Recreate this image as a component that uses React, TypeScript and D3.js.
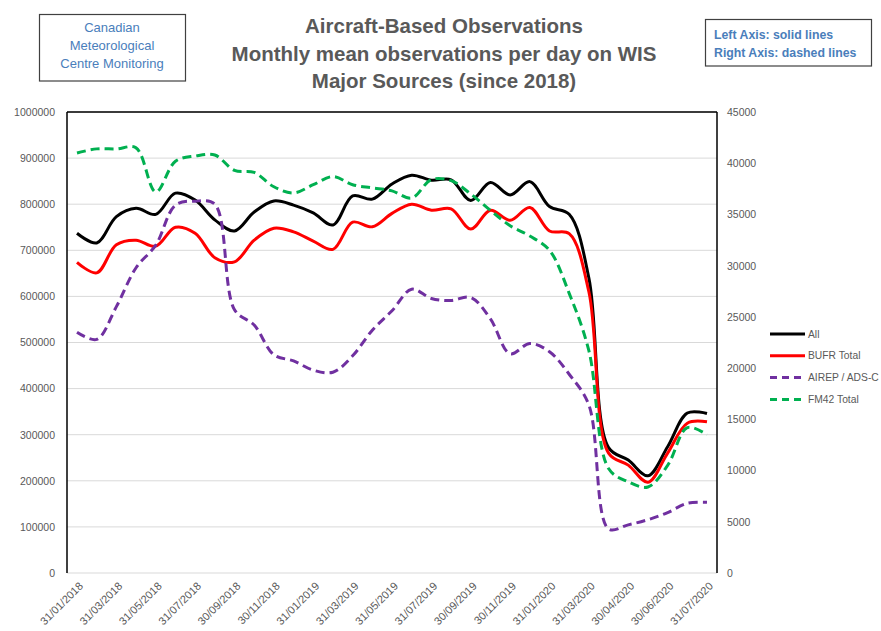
import React, { useEffect, useRef } from 'react';
import * as d3 from 'd3';

// month-end dates (the 2020 section has a couple of extra mid-month points)
const dates = [
  '31/01/2018', '28/02/2018', '31/03/2018', '30/04/2018', '31/05/2018', '30/06/2018',
  '31/07/2018', '31/08/2018', '30/09/2018', '31/10/2018', '30/11/2018', '31/12/2018',
  '31/01/2019', '28/02/2019', '31/03/2019', '30/04/2019', '31/05/2019', '30/06/2019',
  '31/07/2019', '31/08/2019', '30/09/2019', '31/10/2019', '30/11/2019', '31/12/2019',
  '31/01/2020', '29/02/2020', '31/03/2020', '15/04/2020', '30/04/2020', '31/05/2020',
  '30/06/2020', '15/07/2020', '31/07/2020',
];

// left axis (solid)
const allObs = [
  737000, 716000, 773000, 791000, 778000, 824000, 809000, 766000, 742000, 783000, 807000,
  798000, 781000, 755000, 818000, 811000, 844000, 863000, 852000, 853000, 808000, 847000,
  820000, 849000, 795000, 778000, 640000, 272000, 245000, 211000, 274000, 347000, 346000,
];
const bufrTotal = [
  674000, 651000, 712000, 722000, 709000, 750000, 737000, 684000, 675000, 722000, 748000,
  740000, 720000, 702000, 761000, 751000, 780000, 800000, 787000, 790000, 746000, 787000,
  765000, 793000, 742000, 736000, 610000, 260000, 234000, 197000, 260000, 325000, 328000,
];

// right axis (dashed)
const airep = [
  23500, 22800, 26000, 29800, 32000, 35900, 36300, 36000, 25700, 24200, 21300,
  20700, 19800, 19600, 21200, 23700, 25600, 27700, 26800, 26600, 26900, 24800,
  21400, 22400, 21600, 19400, 16400, 4300, 4700, 5200, 5900, 6800, 6900,
];
const fm42 = [
  41000, 41400, 41400, 41500, 37200, 40200, 40700, 40800, 39300, 39100, 37700,
  37100, 37900, 38700, 37900, 37600, 37300, 36600, 38400, 38300, 37000, 35400,
  33900, 32900, 31500, 27300, 21700, 10200, 8900, 8400, 10500, 14200, 13500,
];

const leftTicks = [0, 100000, 200000, 300000, 400000, 500000, 600000, 700000, 800000, 900000, 1000000];
const rightTicks = [0, 5000, 10000, 15000, 20000, 25000, 30000, 35000, 40000, 45000];
const tickDates = dates.filter((d, i) => i % 2 === 0);

const titleLines = [
  'Aircraft-Based Observations',
  'Monthly mean observations per day on WIS',
  'Major Sources (since 2018)',
];

const series = [
  { name: 'All', values: allObs, axis: 'left', color: '#000000', dash: null },
  { name: 'BUFR Total', values: bufrTotal, axis: 'left', color: '#ff0000', dash: null },
  { name: 'AIREP / ADS-C', values: airep, axis: 'right', color: '#7030a0', dash: '9 5' },
  { name: 'FM42 Total', values: fm42, axis: 'right', color: '#00b050', dash: '9 5' },
];

const FONT = '"Liberation Sans", Arial, sans-serif';

const App = () => {
  const svgRef = useRef<SVGSVGElement>(null);

  useEffect(() => {
    const width = 881;
    const height = 631;
    const plot = { left: 67, right: 717, top: 112, bottom: 573 };

    d3.select(svgRef.current).selectAll('*').remove();
    const svg = d3.select(svgRef.current).attr('width', width).attr('height', height);

    svg.append('rect').attr('width', width).attr('height', height).attr('fill', '#fff');

    // scales
    const x = d3.scalePoint<string>().domain(dates).range([77, 707]);
    const yLeft = d3.scaleLinear().domain([0, 1000000]).range([plot.bottom, plot.top]);
    const yRight = d3.scaleLinear().domain([0, 45000]).range([plot.bottom, plot.top]);

    // gridlines
    svg.append('g')
      .selectAll('line')
      .data(leftTicks)
      .join('line')
      .attr('x1', plot.left)
      .attr('x2', plot.right)
      .attr('y1', d => yLeft(d))
      .attr('y2', d => yLeft(d))
      .attr('stroke', '#d9d9d9')
      .attr('stroke-width', 1);

    // axes
    const leftAxis = svg.append('g')
      .attr('transform', `translate(${plot.left},0)`)
      .call(d3.axisLeft(yLeft).tickValues(leftTicks).tickSize(0).tickPadding(12).tickFormat(d3.format('d')));
    const rightAxis = svg.append('g')
      .attr('transform', `translate(${plot.right},0)`)
      .call(d3.axisRight(yRight).tickValues(rightTicks).tickSize(0).tickPadding(10).tickFormat(d3.format('d')));
    [leftAxis, rightAxis].forEach(g => {
      g.select('.domain').remove();
      g.attr('color', '#595959').attr('font-family', FONT).attr('font-size', 10.5);
    });

    // x labels, rotated
    svg.append('g')
      .selectAll('text')
      .data(tickDates)
      .join('text')
      .attr('transform', d => `translate(${(x(d) as number) + 4},${plot.bottom + 11}) rotate(-45)`)
      .attr('text-anchor', 'end')
      .attr('dy', '0.35em')
      .attr('fill', '#595959')
      .attr('font-family', FONT)
      .attr('font-size', 11)
      .text(d => d);

    // plot borders
    const border = svg.append('g').attr('stroke', '#000').attr('stroke-width', 1.5);
    border.append('line').attr('x1', plot.left).attr('x2', plot.left).attr('y1', plot.top).attr('y2', plot.bottom);
    border.append('line').attr('x1', plot.right).attr('x2', plot.right).attr('y1', plot.top).attr('y2', plot.bottom);
    border.append('line').attr('x1', plot.left).attr('x2', plot.right).attr('y1', plot.top).attr('y2', plot.top);

    // series
    series.forEach(s => {
      const y = s.axis === 'left' ? yLeft : yRight;
      const line = d3.line<number>()
        .x((d, i) => x(dates[i]) as number)
        .y(d => y(d))
        .curve(d3.curveCatmullRom.alpha(0.5));
      svg.append('path')
        .datum(s.values)
        .attr('d', line)
        .attr('fill', 'none')
        .attr('stroke', s.color)
        .attr('stroke-width', 3)
        .attr('stroke-linejoin', 'round')
        .attr('stroke-dasharray', s.dash);
    });

    // legend
    const legend = svg.append('g').attr('transform', 'translate(770,334)');
    series.forEach((s, i) => {
      const row = legend.append('g').attr('transform', `translate(0,${i * 21.8})`);
      row.append('line')
        .attr('x1', 0).attr('x2', 35)
        .attr('stroke', s.color)
        .attr('stroke-width', 3)
        .attr('stroke-dasharray', s.dash ? '7 5' : null);
      row.append('text')
        .attr('x', 38)
        .attr('dy', '0.35em')
        .attr('fill', '#595959')
        .attr('font-family', FONT)
        .attr('font-size', 10.3)
        .text(s.name);
    });

    // title
    svg.append('g')
      .selectAll('text')
      .data(titleLines)
      .join('text')
      .attr('x', 444)
      .attr('y', (d, i) => 33 + i * 27.7)
      .attr('text-anchor', 'middle')
      .attr('fill', '#595959')
      .attr('font-family', FONT)
      .attr('font-weight', 'bold')
      .attr('font-size', 20.5)
      .text(d => d);

    // left note box
    svg.append('rect')
      .attr('x', 39.5).attr('y', 14.5).attr('width', 146).attr('height', 66.5)
      .attr('fill', '#fff').attr('stroke', '#404040').attr('stroke-width', 1.2);
    svg.append('g')
      .selectAll('text')
      .data(['Canadian', 'Meteorological', 'Centre Monitoring'])
      .join('text')
      .attr('x', 112)
      .attr('y', (d, i) => 31.5 + i * 18)
      .attr('text-anchor', 'middle')
      .attr('fill', '#4a7ebb')
      .attr('font-family', FONT)
      .attr('font-size', 13)
      .text(d => d);

    // right note box
    svg.append('rect')
      .attr('x', 705.5).attr('y', 19.5).attr('width', 166).attr('height', 46.5)
      .attr('fill', '#fff').attr('stroke', '#404040').attr('stroke-width', 1.2);
    svg.append('g')
      .selectAll('text')
      .data(['Left Axis: solid lines', 'Right Axis: dashed lines'])
      .join('text')
      .attr('x', 714)
      .attr('y', (d, i) => 39 + i * 18)
      .attr('fill', '#4a7ebb')
      .attr('font-family', FONT)
      .attr('font-weight', 'bold')
      .attr('font-size', 12.3)
      .text(d => d);
  }, []);

  return <svg ref={svgRef} style={{ position: 'absolute', left: 0, top: 0 }}></svg>;
};

export default App;
